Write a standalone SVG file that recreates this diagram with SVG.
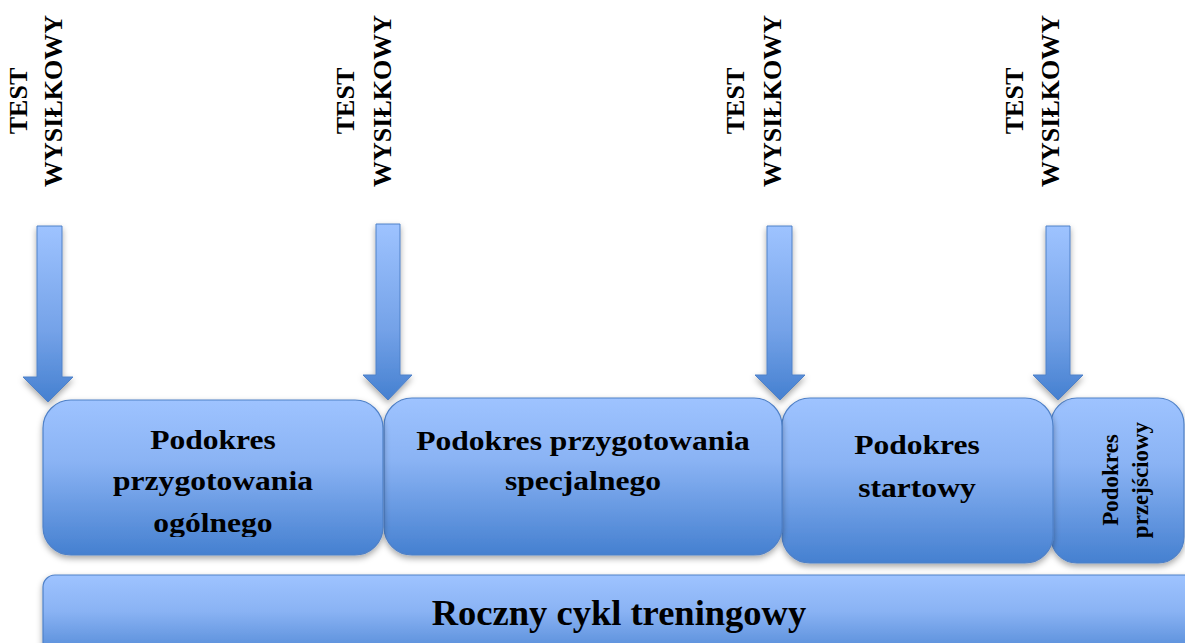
<svg xmlns="http://www.w3.org/2000/svg" width="1185" height="643" viewBox="0 0 1185 643">
  <defs>
    <linearGradient id="gBox" x1="0" y1="0" x2="0" y2="1">
      <stop offset="0" stop-color="#9EC3FF"/>
      <stop offset="0.4" stop-color="#8AB3F4"/>
      <stop offset="1" stop-color="#4580D0"/>
    </linearGradient>
    <linearGradient id="gArrow" x1="0" y1="0" x2="0" y2="1">
      <stop offset="0" stop-color="#9EC3FF"/>
      <stop offset="0.6" stop-color="#74A2E8"/>
      <stop offset="1" stop-color="#4580D0"/>
    </linearGradient>
    <filter id="shadow" x="-20%" y="-20%" width="140%" height="150%">
      <feDropShadow dx="0" dy="3" stdDeviation="3" flood-color="#000" flood-opacity="0.35"/>
    </filter>
    <clipPath id="clip1">
      <rect x="43" y="400" width="340" height="137"/>
    </clipPath>
  </defs>
  <style>
    .box { fill: url(#gBox); stroke: #4F81C8; stroke-width: 1.2; filter: url(#shadow); }
    .arrow { fill: url(#gArrow); stroke: #4F81C8; stroke-width: 1; filter: url(#shadow); }
    .lbl { font-family: "Liberation Serif", "Times New Roman", serif; font-weight: bold; fill: #000; }
    .vt { font-size: 26px; text-anchor: middle; }
    .bt { font-size: 27px; text-anchor: middle; }
  </style>

  <g id="test1">
    <text class="lbl vt" transform="translate(0,101) rotate(-90)"><tspan x="0" y="27">TEST</tspan><tspan x="0" y="62">WYSIŁKOWY</tspan></text>
  </g>
  <g id="test2">
    <text class="lbl vt" transform="translate(0,101) rotate(-90)"><tspan x="0" y="354">TEST</tspan><tspan x="0" y="391">WYSIŁKOWY</tspan></text>
  </g>
  <g id="test3">
    <text class="lbl vt" transform="translate(0,101) rotate(-90)"><tspan x="0" y="744">TEST</tspan><tspan x="0" y="781">WYSIŁKOWY</tspan></text>
  </g>
  <g id="test4">
    <text class="lbl vt" transform="translate(0,101) rotate(-90)"><tspan x="0" y="1023">TEST</tspan><tspan x="0" y="1059">WYSIŁKOWY</tspan></text>
  </g>

  <g id="bar">
    <rect class="box" x="43" y="575" width="1170" height="90" rx="12"/>
    <text class="lbl" x="619" y="625" font-size="36.5" text-anchor="middle">Roczny cykl treningowy</text>
  </g>

  <g id="box4">
    <rect class="box" x="1051" y="398" width="133" height="165" rx="26"/>
    <text class="lbl" font-size="23" text-anchor="middle" transform="translate(0,480) rotate(-90)"><tspan x="0" y="1118">Podokres</tspan><tspan x="0" y="1148">przejściowy</tspan></text>
  </g>
  <g id="box3">
    <rect class="box" x="782" y="398" width="271" height="165" rx="28"/>
    <text class="lbl bt" transform="translate(917,454) scale(1.17,1)">Podokres</text>
    <text class="lbl bt" transform="translate(917,497) scale(1.17,1)">startowy</text>
  </g>
  <g id="box2">
    <rect class="box" x="384" y="398" width="398" height="157" rx="28"/>
    <text class="lbl bt" transform="translate(583,450) scale(1.17,1)">Podokres przygotowania</text>
    <text class="lbl bt" transform="translate(583,490) scale(1.17,1)">specjalnego</text>
  </g>
  <g id="box1">
    <rect class="box" x="43" y="400" width="340" height="155" rx="28"/>
    <g clip-path="url(#clip1)">
      <text class="lbl bt" transform="translate(213,449) scale(1.17,1)">Podokres</text>
      <text class="lbl bt" transform="translate(213,490) scale(1.17,1)">przygotowania</text>
      <text class="lbl bt" transform="translate(213,532) scale(1.17,1)">ogólnego</text>
    </g>
  </g>

  <g id="connectors">
    <path class="arrow" d="M37,226 H62 V377 H73 L48,402 L23,377 H37 Z"/>
    <path class="arrow" d="M376,224 H400 V375 H412 L388,400 L363,375 H376 Z"/>
    <path class="arrow" d="M767,226 H792 V375 H805 L780,400 L755,375 H767 Z"/>
    <path class="arrow" d="M1046,226 H1070 V375 H1083 L1058,400 L1033,375 H1046 Z"/>
  </g>
</svg>
